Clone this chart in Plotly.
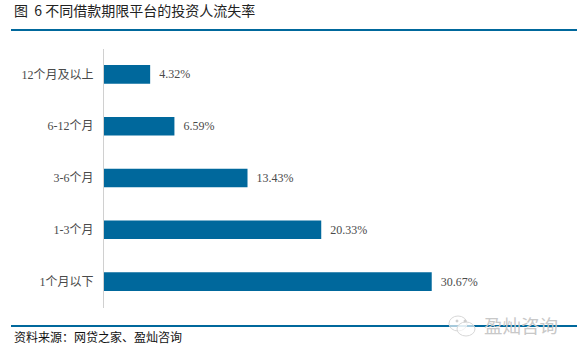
import plotly.graph_objects as go

categories = ["1个月以下", "1-3个月", "3-6个月", "6-12个月", "12个月及以上"]
values = [30.67, 20.33, 13.43, 6.59, 4.32]
value_labels = ["30.67%", "20.33%", "13.43%", "6.59%", "4.32%"]
title_text = "图  6 不同借款期限平台的投资人流失率"
source_text = "资料来源：网贷之家、盈灿咨询"
watermark_text = "盈灿咨询"

BLUE = "#00689c"
W, H = 577, 353
serif = "Liberation Serif, Noto Sans CJK SC"
sans = "Noto Sans CJK SC, Liberation Sans"

fig = go.Figure(go.Bar(
    y=categories, x=values, orientation="h",
    marker=dict(color=BLUE, line=dict(width=0)),
    text=value_labels, texttemplate="  %{text}", textposition="outside", cliponaxis=False,
    textfont=dict(family=serif, size=12, color="#4a4a4a"),
    hoverinfo="skip",
))

def px(x): return x / W
def py(y): return 1 - y / H

def blob(x0, y0, x1, y1, fill="rgba(255,255,255,0.65)", line="#d8d8d8"):
    return dict(type="circle", xref="paper", yref="paper", x0=px(x0), x1=px(x1), y0=py(y0), y1=py(y1),
                line=dict(color=line, width=1), fillcolor=fill)

shapes = [
    dict(type="line", xref="paper", yref="paper", x0=px(11), x1=px(577), y0=py(30), y1=py(30),
         line=dict(color=BLUE, width=2)),
    dict(type="line", xref="paper", yref="paper", x0=px(11), x1=px(577), y0=py(326), y1=py(326),
         line=dict(color=BLUE, width=2)),
    blob(449, 316, 467, 331),
    blob(457, 322, 475, 336),
    blob(456, 320, 458, 322, fill="#cccccc", line="#cccccc"),
    blob(464, 320, 466, 322, fill="#cccccc", line="#cccccc"),
]

annotations = [
    dict(text=title_text, xref="paper", yref="paper", x=px(11.5), y=py(10), xanchor="left", yanchor="middle",
         showarrow=False, font=dict(family=sans, size=14, color="#222222")),
    dict(text=source_text, xref="paper", yref="paper", x=px(12), y=py(336.5), xanchor="left", yanchor="middle",
         showarrow=False, font=dict(family=sans, size=12, color="#111111")),
    dict(text=watermark_text, xref="paper", yref="paper", x=px(482), y=py(324.5), xanchor="left", yanchor="middle",
         showarrow=False, font=dict(family=sans, size=18.5, color="#c8c8c8")),
]

fig.update_layout(
    width=W, height=H, autosize=False,
    margin=dict(l=0, r=0, t=0, b=0, pad=0),
    paper_bgcolor="white", plot_bgcolor="white",
    bargap=0.64, showlegend=False,
    shapes=shapes, annotations=annotations,
    xaxis=dict(range=[0, 35], domain=[px(104), px(478)], visible=False, fixedrange=True),
    yaxis=dict(domain=[py(307.5), py(48.5)], showline=True, linecolor="#d0d0d0", linewidth=1, ticks="",
               showgrid=False, automargin=False,
               tickfont=dict(family=serif, size=12, color="#4a4a4a"), ticklabelstandoff=7),
)
fig.write_html("out.html", config=dict(displayModeBar=False),
               post_script="document.body.style.margin='0';")
